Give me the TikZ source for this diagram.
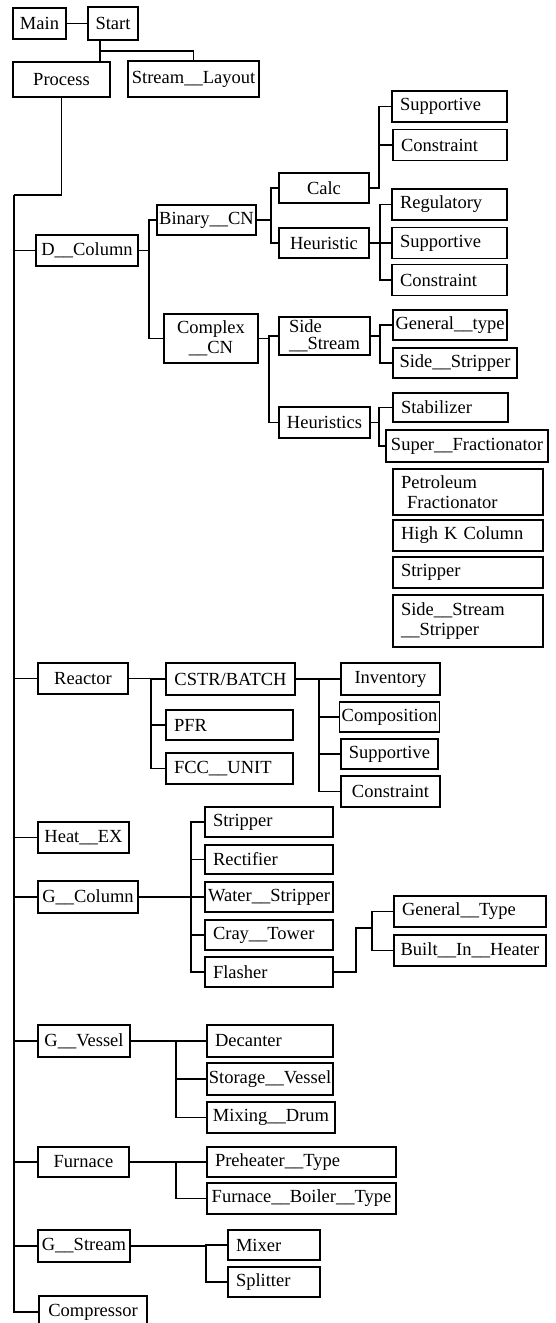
\documentclass[tikz,border=0pt]{standalone}
\usepackage{fontspec}
\setmainfont{Liberation Serif}
\usepackage{tikz}
\newcommand{\boxfont}{\fontsize{18.5}{20}\selectfont}

\begin{document}
\begin{tikzpicture}[x=1pt, y=-1pt,
    box/.style={draw, line width=1.4pt, minimum height=31pt, inner xsep=2pt, inner ysep=1pt, font=\boxfont},
    lbox/.style={box, inner xsep=8pt, text width=#1, align=left},
    link/.style={line width=1.6pt}]
    \useasboundingbox (0,0) rectangle (555,1323);
    % Disegna i nodi in alto
    \node[box, minimum width=53] (main) at (39.5,23.5) {Main};
    \node[box, minimum width=50, minimum height=33] (start) at (113,23.5) {Start};
    \node[box, minimum width=97, minimum height=35] (proc) at (61.5,79.5) {Process};
    \node[box, minimum width=131, minimum height=36] (slay) at (193.5,79) {Stream\_\_Layout};
    % Disegna il ramo D_Column
    \node[box, minimum width=102] (dcol) at (87,250.5) {D\_\_Column};
    \node[box, minimum width=99, minimum height=30] (bin) at (206.5,220) {Binary\_\_CN};
    \node[box, minimum width=94, minimum height=49, align=center] (cplx) at (211,338.5) {Complex\\\_\_CN};
    \node[box, minimum width=90, minimum height=30] (calc) at (324,188) {Calc};
    \node[box, minimum width=90, minimum height=30] (heur) at (324,243) {Heuristic};
    \node[lbox=99] (csup) at (449.5,106.5) {Supportive};
    \node[lbox=98] (ccon) at (450,145) {Constraint};
    \node[lbox=99] (hreg) at (449.5,204.5) {Regulatory};
    \node[lbox=99] (hsup) at (449.5,243) {Supportive};
    \node[lbox=99] (hcon) at (449.5,280) {Constraint};
    \node[box, minimum width=91, minimum height=38, inner ysep=0pt, align=left,
        font=\fontsize{18.5}{16.5}\selectfont] (side) at (324.5,336) {Side\\\_\_Stream};
    \node[box, minimum width=91] (heurs) at (324.5,422.5) {Heuristics};
    \node[box, minimum width=114, minimum height=30] (gen) at (450,325) {General\_\_type};
    \node[box, minimum width=124, minimum height=30] (sstrip) at (455,363) {Side\_\_Stripper};
    \node[lbox=99, minimum height=29] (stab) at (450.5,407.5) {Stabilizer};
    \node[box, minimum width=162, minimum height=32] (super) at (467,446) {Super\_\_Fractionator};
    \node[lbox=134, minimum height=46] (petro) at (468,492) {Petroleum\\\ Fractionator};
    \node[lbox=134] (highk) at (468,535.5) {High K Column};
    \node[lbox=134] (strip) at (468,572.5) {Stripper};
    \node[lbox=134, minimum height=52] (sss) at (468,621) {Side\_\_Stream\\\_\_Stripper};
    % Disegna il ramo Reactor
    \node[box, minimum width=90] (reac) at (83,678.5) {Reactor};
    \node[box, minimum width=129, minimum height=32] (cstr) at (230.5,679) {CSTR/BATCH};
    \node[lbox=111, minimum height=30] (pfr) at (229.5,725) {PFR};
    \node[lbox=111] (fcc) at (229.5,768.5) {FCC\_\_UNIT};
    \node[box, minimum width=99, minimum height=32] (inv) at (390.5,679) {Inventory};
    \node[box, minimum width=97, minimum height=30] (comp) at (389.5,717) {Composition};
    \node[box, minimum width=97, minimum height=30] (rsup) at (389.5,754) {Supportive};
    \node[box, minimum width=99] (rcon) at (390.5,791.5) {Constraint};
    % Disegna Heat_EX e il ramo G_Column
    \node[box, minimum width=91] (hex) at (83.5,837.5) {Heat\_\_EX};
    \node[box, minimum width=100, minimum height=32] (gcol) at (88,897) {G\_\_Column};
    \node[lbox=112, minimum height=30] (gstr) at (269,822) {Stripper};
    \node[lbox=112, minimum height=29] (rect) at (269,859.5) {Rectifier};
    \node[box, minimum width=128, minimum height=30] (wstr) at (269,897) {Water\_\_Stripper};
    \node[lbox=112, minimum height=30] (cray) at (269,935) {Cray\_\_Tower};
    \node[lbox=112, minimum height=30] (flash) at (269,972) {Flasher};
    \node[lbox=136] (gtype) at (470,911.5) {General\_\_Type};
    \node[box, minimum width=152] (bih) at (470,950.5) {Built\_\_In\_\_Heater};
    % Disegna i rami G_Vessel, Furnace e G_Stream
    \node[box, minimum width=92, minimum height=32] (gves) at (84,1041) {G\_\_Vessel};
    \node[lbox=110, minimum height=32] (dec) at (270,1041) {Decanter};
    \node[box, minimum width=126, minimum height=32] (stor) at (270,1079) {Storage\_\_Vessel};
    \node[box, minimum width=128] (mix) at (271,1117.5) {Mixing\_\_Drum};
    \node[box, minimum width=91, minimum height=30] (furn) at (83.5,1162) {Furnace};
    \node[lbox=173, minimum height=30] (pre) at (301.5,1162) {Preheater\_\_Type};
    \node[box, minimum width=189] (fbt) at (301.5,1198.5) {Furnace\_\_Boiler\_\_Type};
    \node[box, minimum width=92, minimum height=32] (gstrm) at (84,1246) {G\_\_Stream};
    \node[lbox=76, minimum height=30] (mixer) at (274,1245) {Mixer};
    \node[lbox=76, minimum height=30] (split) at (274,1282) {Splitter};
    \node[box, minimum width=108, minimum height=32] (compr) at (93,1312) {Compressor};
    % Disegna le linee in alto
    \draw[link] (main) -- (start);
    \draw[link] ([xshift=-13pt]start.south) -- ([xshift=-13pt]start.south |- proc.north);
    \draw[link] ([xshift=-13pt]start.south) ++(0,10) -| (slay.north);
    % Disegna la linea principale
    \coordinate (trunk) at (14,195);
    \draw[link] (proc.south) |- (trunk);
    \draw[link] (trunk) |- (compr.west);
    \foreach \n in {dcol,reac,hex,gcol,gves,furn,gstrm}
        \draw[link] (trunk) |- (\n.west);
    % Disegna le diramazioni
    \foreach \n in {bin,cplx} \draw[link] (dcol.east) -- ++(10,0) |- (\n.west);
    \foreach \n in {calc,heur} \draw[link] (bin.east) -- ++(14,0) |- (\n.west);
    \foreach \n in {csup,ccon} \draw[link] (calc.east) -- ++(9,0) |- (\n.west);
    \foreach \n in {hreg,hsup,hcon} \draw[link] (heur.east) -- ++(10,0) |- (\n.west);
    \foreach \n in {side,heurs} \draw[link] (cplx.east) -- ++(10,0) |- (\n.west);
    \foreach \n in {gen,sstrip} \draw[link] (side.east) -- ++(9,0) |- (\n.west);
    \foreach \n in {stab,super} \draw[link] (heurs.east) -- ++(8,0) |- (\n.west);
    \foreach \n in {cstr,pfr,fcc} \draw[link] (reac.east) -- ++(22,0) |- (\n.west);
    \foreach \n in {inv,comp,rsup,rcon} \draw[link] (cstr.east) -- ++(23,0) |- (\n.west);
    \foreach \n in {gstr,rect,wstr,cray,flash} \draw[link] (gcol.east) -- ++(52,0) |- (\n.west);
    \coordinate (fbus) at (372,928);
    \draw[link] (flash.east) -- ++(22,0) |- (fbus);
    \foreach \n in {gtype,bih} \draw[link] (fbus) |- (\n.west);
    \foreach \n in {dec,stor,mix} \draw[link] (gves.east) -- ++(45,0) |- (\n.west);
    \foreach \n in {pre,fbt} \draw[link] (furn.east) -- ++(46,0) |- (\n.west);
    \foreach \n in {mixer,split} \draw[link] (gstrm.east) -- ++(75,0) |- (\n.west);
\end{tikzpicture}
\end{document}
